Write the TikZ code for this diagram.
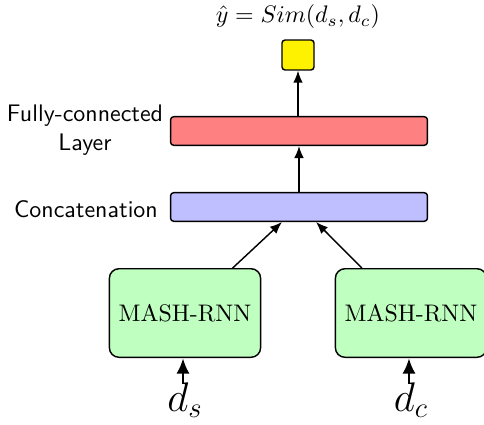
\documentclass[tikz,border=0pt]{standalone}
\usetikzlibrary{arrows.meta}
\tikzset{
  layerbox/.style={draw, rounded corners=1.3pt, minimum width=3.77cm, minimum height=0.42cm},
  rnnbox/.style={draw, fill=green!25, rounded corners=4pt, minimum width=2.22cm, minimum height=1.3cm},
  lbl/.style={font=\sffamily, align=center},
  inlbl/.style={font=\fontsize{17}{20}\selectfont, inner sep=0pt},
  flow/.style={-{Latex[length=5pt,width=4pt]}},
  inflow/.style={line width=1.2pt, -{Latex[length=6.5pt,width=5.5pt]}}
}
\begin{document}
\begin{tikzpicture}[x=0.01468cm,y=-0.01468cm, semithick]
        \useasboundingbox (0,0) rectangle (484,425);
        % Salida
        \node[draw, fill=yellow, rounded corners=1.3pt, minimum width=0.47cm, minimum height=0.44cm] (out) at (298,55) {};
        \node (sim) at (298,17) {$\hat{y} = Sim(d_s, d_c)$};
        
        % Capas
        \node[layerbox, fill=red!50] (fc) at (299,131) {};
        \node[layerbox, fill=blue!25] (cat) at (299,207) {};
        \node[lbl] (fclbl) at (85,130) {Fully-connected\\Layer};
        \node[lbl] (catlbl) at (86,209) {Concatenation};
        
        % Redes
        \node[rnnbox] (rnns) at (185,313) {MASH-RNN};
        \node[rnnbox] (rnnc) at (411,313) {MASH-RNN};
        
        % Entradas
        \node[inlbl] (ds) at (185,400) {$d_s$};
        \node[inlbl] (dc) at (411,400) {$d_c$};
        
        % Flechas
        \draw[flow] (fc.north -| out) -- (out.south);
        \draw[flow] (cat.north) -- (fc.south);
        \draw[flow] ([xshift=0.70cm]rnns.north) -- ([xshift=-0.25cm]cat.south);
        \draw[flow] ([xshift=-0.72cm]rnnc.north) -- ([xshift=0.25cm]cat.south);
        \draw[inflow] (ds.north -| rnns.south) ++(-2,2) coordinate (dsin) (dsin) -- (rnns.south -| dsin);
        \draw[inflow] (dc.north -| rnnc.south) ++(-2,2) coordinate (dcin) (dcin) -- (rnnc.south -| dcin);
    \end{tikzpicture}
\end{document}
